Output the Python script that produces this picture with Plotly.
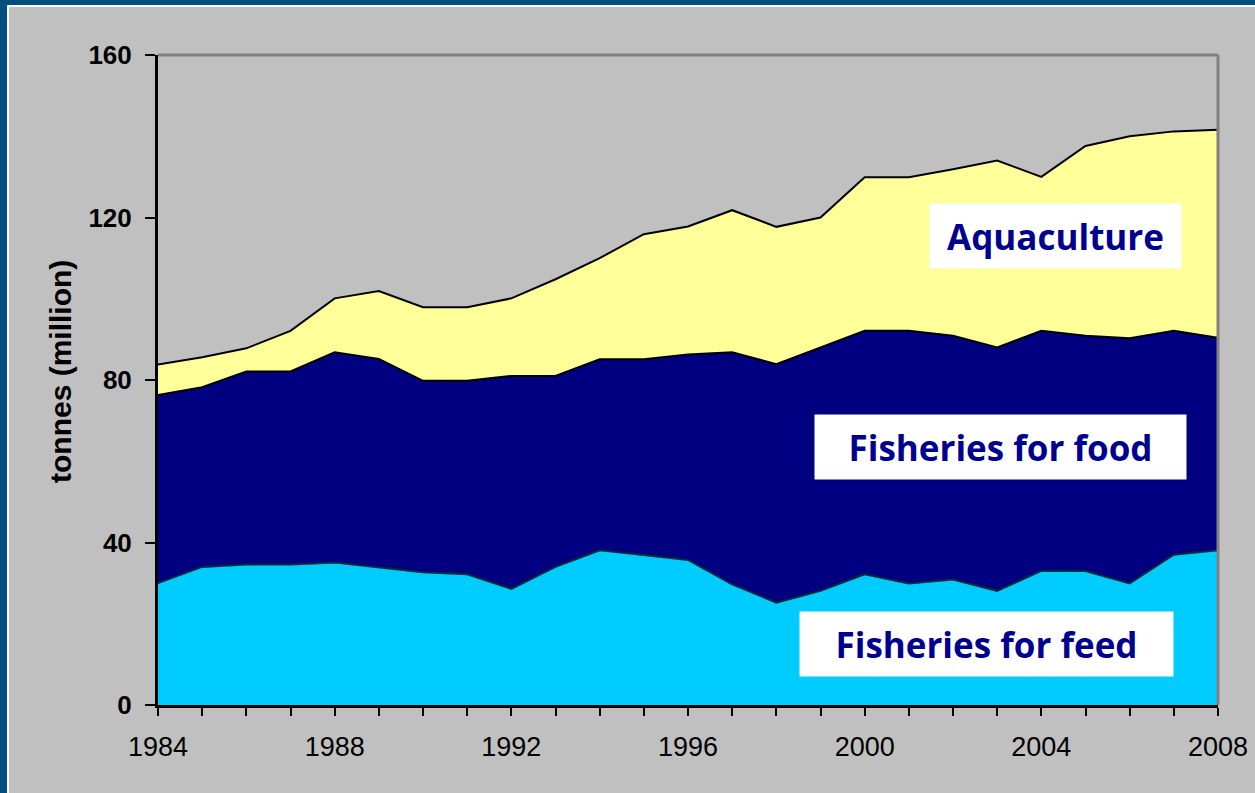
import plotly.graph_objects as go

years = list(range(1984, 2009))
feed = [30.0, 34.0, 34.6, 34.6, 35.1, 33.9, 32.7, 32.2, 28.6, 34.0, 38.1, 36.9, 35.7,
        29.7, 25.2, 28.1, 32.2, 29.9, 30.9, 28.1, 33.0, 33.0, 29.9, 37.0, 38.1]
food = [46.3, 44.2, 47.5, 47.5, 51.7, 51.3, 47.1, 47.6, 52.4, 47.0, 47.0, 48.2, 50.6,
        57.1, 58.7, 59.9, 59.9, 62.2, 60.0, 59.9, 59.1, 57.9, 60.4, 55.1, 52.3]
aquaculture = [7.5, 7.4, 5.7, 10.0, 13.3, 16.7, 18.1, 18.1, 19.1, 23.8, 24.9, 30.8, 31.5,
               35.0, 33.8, 32.0, 37.8, 37.8, 41.0, 46.0, 37.9, 46.7, 49.7, 49.1, 51.2]
series_names = ["Fisheries for feed", "Fisheries for food", "Aquaculture"]
y_ticks = [0, 40, 80, 120, 160]
x_ticks = [1984, 1988, 1992, 1996, 2000, 2004, 2008]
y_title = "tonnes (million)"

W, H = 1255, 793
L, R, T, B = 158, 1218, 55, 705

def px(x):
    return (x - L) / (R - L)

def py(y):
    return (B - y) / (B - T)

fig = go.Figure()
colors = ["#00ccff", "#000080", "#ffff99"]
line_cols = ["#002a3a", "black", "black"]
for name, vals, col, lc in zip(series_names, [feed, food, aquaculture], colors, line_cols):
    fig.add_trace(go.Scatter(
        x=years, y=vals, name=name, stackgroup="one", mode="lines",
        line=dict(color=lc, width=2), fillcolor=col, hoverinfo="x+y+name"))

font_main = "Arial, Liberation Sans, sans-serif"
fig.update_layout(
    width=W, height=H, autosize=False,
    margin=dict(l=L, r=W - R, t=T, b=H - B, autoexpand=False),
    paper_bgcolor="#c0c0c0", plot_bgcolor="#c0c0c0",
    showlegend=False,
    xaxis=dict(range=[1984, 2008], tickvals=x_ticks, ticks="outside", ticklen=8,
               tickwidth=2, tickcolor="black", showgrid=False, zeroline=False,
               showline=True, linecolor="black", linewidth=3, automargin=False,
               tickfont=dict(family=font_main, size=27, color="black"),
               ticklabelstandoff=8,
               minor=dict(dtick=1, tick0=1984, ticks="outside", ticklen=8,
                          tickwidth=2, tickcolor="black", showgrid=False)),
    yaxis=dict(range=[0, 160], tickvals=y_ticks, ticks="outside", ticklen=10,
               tickwidth=2, tickcolor="black", showgrid=False, zeroline=False,
               showline=True, linecolor="black", linewidth=3, automargin=False,
               tickfont=dict(family=font_main, size=26, color="black", weight="bold"),
               ticklabelstandoff=8),
)

# y-axis title placed to match the reference
fig.add_annotation(text=y_title, xref="paper", yref="paper", x=px(61), y=py(372),
                   xanchor="center", yanchor="middle", textangle=-90, showarrow=False,
                   font=dict(family=font_main, size=30, color="black", weight="bold"))

# plot area top/right grey frame
fig.add_shape(type="line", xref="paper", yref="paper", x0=0, x1=1, y0=1, y1=1,
              line=dict(color="#808080", width=3), layer="above")
fig.add_shape(type="line", xref="paper", yref="paper", x0=1, x1=1, y0=0, y1=1,
              line=dict(color="#808080", width=3), layer="above")

# slide border (dark blue band + white line) on left and top
fig.add_shape(type="rect", xref="paper", yref="paper", x0=px(-5), x1=px(7), y0=py(H + 5), y1=py(-5),
              fillcolor="#004f7e", line=dict(width=0), layer="below")
fig.add_shape(type="rect", xref="paper", yref="paper", x0=px(-5), x1=px(W + 5), y0=py(5), y1=py(-5),
              fillcolor="#004f7e", line=dict(width=0), layer="below")
fig.add_shape(type="line", xref="paper", yref="paper", x0=px(8), x1=px(8), y0=py(H + 5), y1=py(6),
              line=dict(color="white", width=2), layer="below")
fig.add_shape(type="line", xref="paper", yref="paper", x0=px(7), x1=px(W + 5), y0=py(6), y1=py(6),
              line=dict(color="white", width=2), layer="below")

label_font = dict(family="Comic Sans MS, Open Sans, sans-serif", size=35, color="#000090", weight="bold")
boxes = [("Aquaculture", 930, 1181, 204, 268),
         ("Fisheries for food", 815, 1186, 415, 479),
         ("Fisheries for feed", 800, 1173, 612, 676)]
for text, x0, x1, y0, y1 in boxes:
    fig.add_annotation(text=text, xref="paper", yref="paper",
                       x=px((x0 + x1) / 2), y=py((y0 + y1) / 2),
                       xanchor="center", yanchor="middle", showarrow=False,
                       width=x1 - x0, height=y1 - y0, bgcolor="white", borderpad=0,
                       font=label_font)

fig.write_html("out.html", config={"displayModeBar": False, "responsive": False},
               post_script="document.body.style.margin='0';document.body.style.overflow='hidden';")
